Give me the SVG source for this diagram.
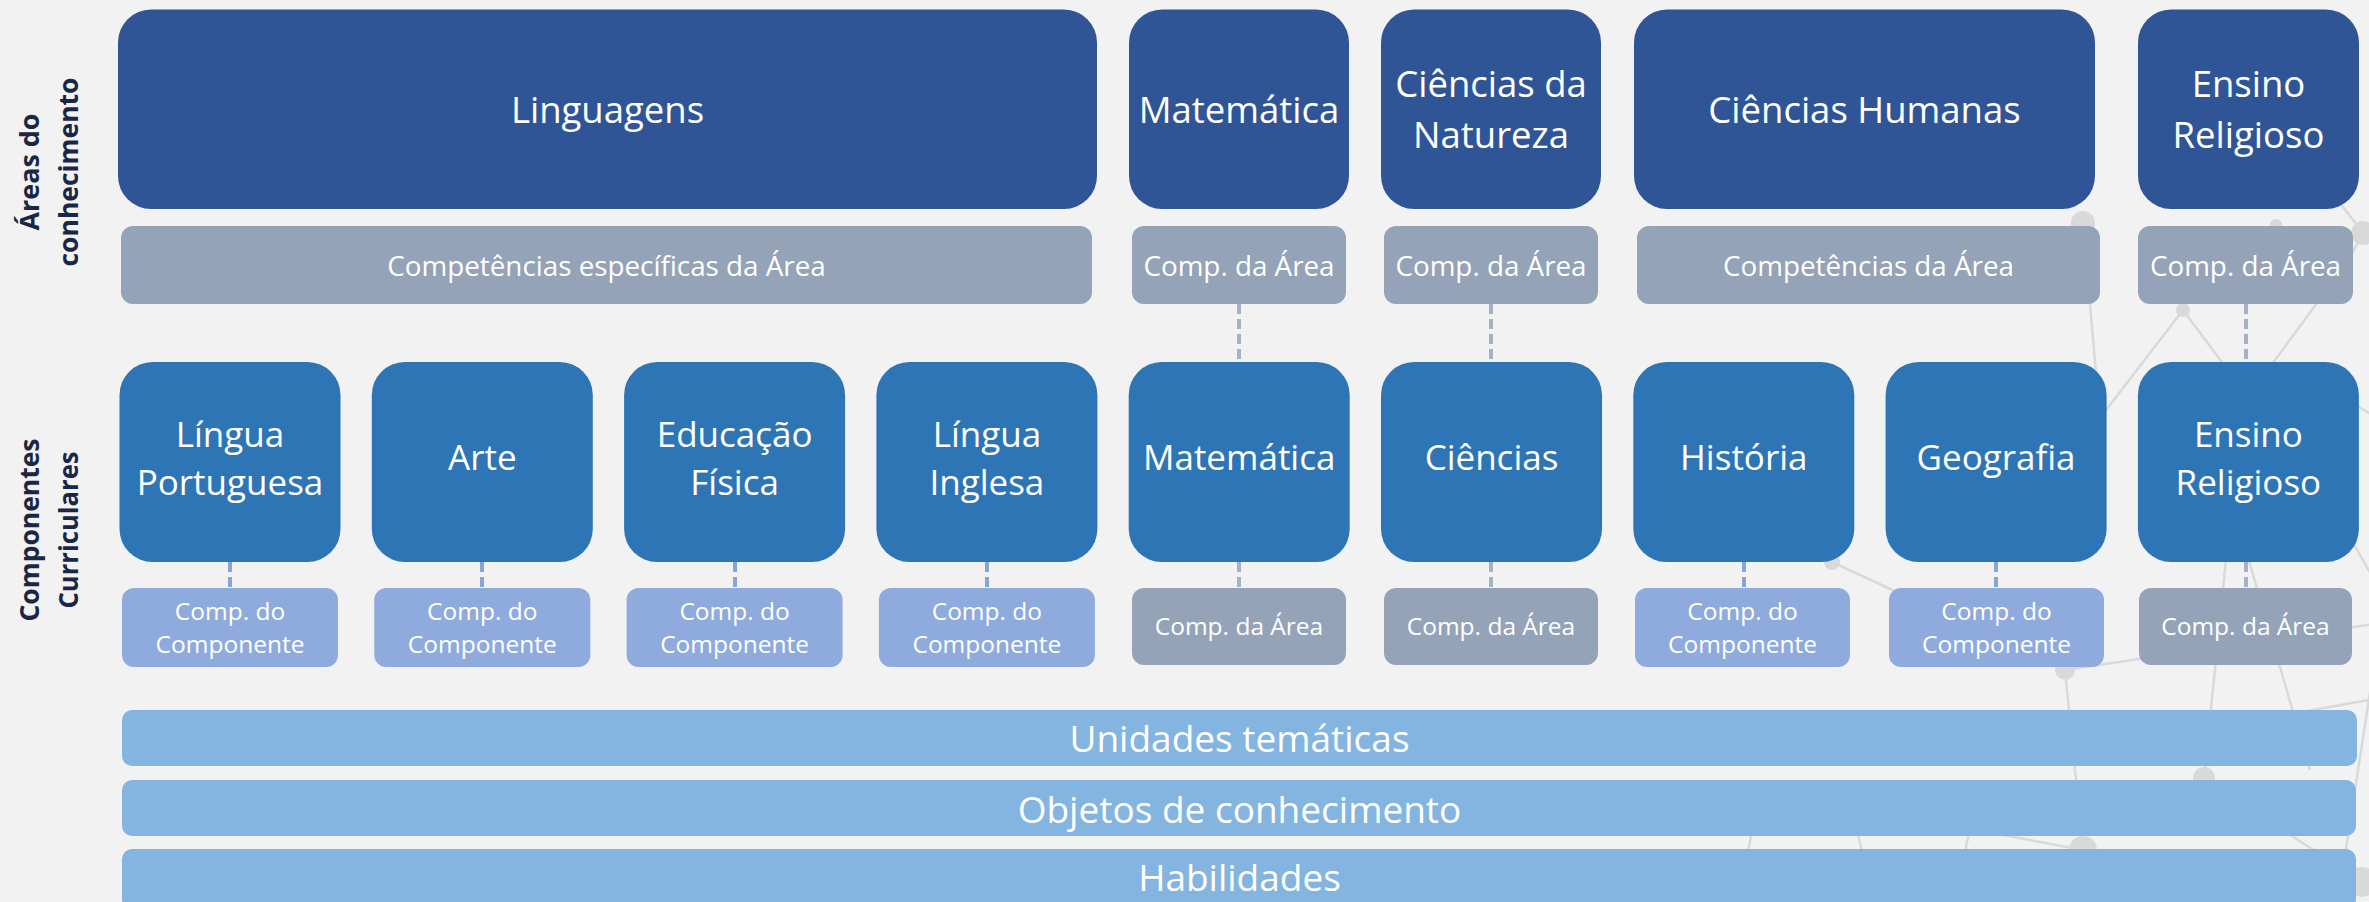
<svg xmlns="http://www.w3.org/2000/svg" width="2369" height="902" viewBox="0 0 2369 902">
<style>
.area{fill:#2F5597}
.comp{fill:#2E75B6}
.ca{fill:#94A3B8}
.cc{fill:#8FAADC}
.band{fill:#84B4E0}
text{font-family:"Open Sans","Noto Sans",sans-serif;fill:#FFFFFF;text-anchor:middle}
.ta{font-size:36.5px}
.t35{font-size:35px}
.t27{font-size:27.8px}
.t24{font-size:24.5px}
.t36{font-size:37px}
.lbl{font-weight:700;font-size:27.5px;fill:#1A2744}
.net line{stroke:#D9D9D9;stroke-width:2.5}
.net circle{fill:#D9D9D9}
.dash{stroke-width:4;stroke-dasharray:10 5;fill:none}
.dg{stroke:#A4B2C6}
.db{stroke:#85A7D6}
</style>
<rect x="0" y="0" width="2369" height="902" fill="#F2F2F2"/>
<g id="network" class="net">
<line x1="2083" y1="223" x2="2100" y2="420"/>
<line x1="2183" y1="310" x2="2060" y2="470"/>
<line x1="2183" y1="310" x2="2265" y2="420"/>
<line x1="2250" y1="394" x2="2345" y2="265"/>
<line x1="2363" y1="233" x2="2330" y2="190"/>
<line x1="2363" y1="233" x2="2380" y2="218"/>
<line x1="2363" y1="233" x2="2340" y2="275"/>
<line x1="1832" y1="562" x2="2065" y2="670"/>
<line x1="2065" y1="670" x2="2380" y2="623"/>
<line x1="2065" y1="670" x2="2083" y2="850"/>
<line x1="2204" y1="778" x2="2232" y2="500"/>
<line x1="2240" y1="530" x2="2310" y2="770"/>
<line x1="2204" y1="778" x2="2362" y2="882"/>
<line x1="2375" y1="660" x2="2338" y2="900"/>
<line x1="2290" y1="714" x2="2380" y2="698"/>
<line x1="2340" y1="520" x2="2380" y2="590"/>
<line x1="2083" y1="850" x2="1950" y2="825"/>
<line x1="1740" y1="900" x2="1757" y2="800"/>
<line x1="1850" y1="800" x2="1872" y2="895"/>
<line x1="1975" y1="800" x2="1955" y2="905"/>
<line x1="2340" y1="395" x2="2380" y2="420"/>
<circle cx="2083" cy="223" r="12"/>
<circle cx="2183" cy="310" r="7"/>
<circle cx="2276" cy="225" r="6"/>
<circle cx="2363" cy="233" r="12"/>
<circle cx="1832" cy="562" r="8"/>
<circle cx="2065" cy="670" r="10"/>
<circle cx="2204" cy="778" r="11"/>
<circle cx="2083" cy="850" r="14"/>
<circle cx="2362" cy="882" r="15"/>
</g>
<g id="side-labels">
<text class="lbl" transform="translate(0,172) rotate(-90)"><tspan x="0" y="39" textLength="117" lengthAdjust="spacingAndGlyphs">Áreas do</tspan><tspan x="0" y="78" textLength="189" lengthAdjust="spacingAndGlyphs">conhecimento</tspan></text>
<text class="lbl" transform="translate(0,530) rotate(-90)"><tspan x="0" y="39" textLength="183" lengthAdjust="spacingAndGlyphs">Componentes</tspan><tspan x="0" y="78" textLength="157" lengthAdjust="spacingAndGlyphs">Curriculares</tspan></text>
</g>
<g id="connectors">
<line class="dash dg" x1="1239" y1="304" x2="1239" y2="362"/>
<line class="dash dg" x1="1491" y1="304" x2="1491" y2="362"/>
<line class="dash dg" x1="2246" y1="304" x2="2246" y2="362"/>
<line class="dash db" x1="230" y1="562" x2="230" y2="588"/>
<line class="dash db" x1="482" y1="562" x2="482" y2="588"/>
<line class="dash db" x1="735" y1="562" x2="735" y2="588"/>
<line class="dash db" x1="987" y1="562" x2="987" y2="588"/>
<line class="dash dg" x1="1239" y1="562" x2="1239" y2="588"/>
<line class="dash dg" x1="1491" y1="562" x2="1491" y2="588"/>
<line class="dash db" x1="1744" y1="562" x2="1744" y2="588"/>
<line class="dash db" x1="1996" y1="562" x2="1996" y2="588"/>
<line class="dash dg" x1="2246" y1="562" x2="2246" y2="588"/>
</g>
<g id="area-linguagens"><rect class="area" x="118" y="9.5" width="979" height="199.5" rx="33"/><text class="ta" x="607.5" y="123">Linguagens</text></g>
<g id="area-matematica"><rect class="area" x="1129" y="9.5" width="220" height="199.5" rx="33"/><text class="ta" x="1239" y="123">Matemática</text></g>
<g id="area-ciencias-natureza"><rect class="area" x="1381" y="9.5" width="220" height="199.5" rx="33"/><text class="ta" x="1491" y="97">Ciências da</text><text class="ta" x="1491" y="148">Natureza</text></g>
<g id="area-ciencias-humanas"><rect class="area" x="1634" y="9.5" width="461" height="199.5" rx="33"/><text class="ta" x="1864.5" y="123">Ciências Humanas</text></g>
<g id="area-ensino-religioso"><rect class="area" x="2138" y="9.5" width="221" height="199.5" rx="33"/><text class="ta" x="2248.5" y="97">Ensino</text><text class="ta" x="2248.5" y="148">Religioso</text></g>
<g id="comp-area-linguagens"><rect class="ca" x="121" y="226" width="971" height="78" rx="12"/><text class="t27" x="606.5" y="276">Competências específicas da Área</text></g>
<g id="comp-area-matematica"><rect class="ca" x="1132" y="226" width="214" height="78" rx="12"/><text class="t27" x="1239" y="276">Comp. da Área</text></g>
<g id="comp-area-ciencias-natureza"><rect class="ca" x="1384" y="226" width="214" height="78" rx="12"/><text class="t27" x="1491" y="276">Comp. da Área</text></g>
<g id="comp-area-ciencias-humanas"><rect class="ca" x="1637" y="226" width="463" height="78" rx="12"/><text class="t27" x="1868.5" y="276">Competências da Área</text></g>
<g id="comp-area-ensino-religioso"><rect class="ca" x="2138" y="226" width="215" height="78" rx="12"/><text class="t27" x="2245.5" y="276">Comp. da Área</text></g>
<g id="cc-lingua-portuguesa"><rect class="comp" x="119.5" y="362" width="221" height="200" rx="33"/><text class="t35" x="230" y="447">Língua</text><text class="t35" x="230" y="495">Portuguesa</text></g>
<g id="cc-arte"><rect class="comp" x="371.8" y="362" width="221" height="200" rx="33"/><text class="t35" x="482.3" y="470">Arte</text></g>
<g id="cc-educacao-fisica"><rect class="comp" x="624.1" y="362" width="221" height="200" rx="33"/><text class="t35" x="734.6" y="447">Educação</text><text class="t35" x="734.6" y="495">Física</text></g>
<g id="cc-lingua-inglesa"><rect class="comp" x="876.4" y="362" width="221" height="200" rx="33"/><text class="t35" x="986.9" y="447">Língua</text><text class="t35" x="986.9" y="495">Inglesa</text></g>
<g id="cc-matematica"><rect class="comp" x="1128.7" y="362" width="221" height="200" rx="33"/><text class="t35" x="1239.2" y="470">Matemática</text></g>
<g id="cc-ciencias"><rect class="comp" x="1381" y="362" width="221" height="200" rx="33"/><text class="t35" x="1491.5" y="470">Ciências</text></g>
<g id="cc-historia"><rect class="comp" x="1633.3" y="362" width="221" height="200" rx="33"/><text class="t35" x="1743.8" y="470">História</text></g>
<g id="cc-geografia"><rect class="comp" x="1885.6" y="362" width="221" height="200" rx="33"/><text class="t35" x="1996.1" y="470">Geografia</text></g>
<g id="cc-ensino-religioso"><rect class="comp" x="2137.9" y="362" width="221" height="200" rx="33"/><text class="t35" x="2248.4" y="447">Ensino</text><text class="t35" x="2248.4" y="495">Religioso</text></g>
<g id="sub-lingua-portuguesa"><rect class="cc" x="122" y="588" width="216" height="79" rx="12"/><text class="t24" x="230" y="620">Comp. do</text><text class="t24" x="230" y="653">Componente</text></g>
<g id="sub-arte"><rect class="cc" x="374.3" y="588" width="216" height="79" rx="12"/><text class="t24" x="482.3" y="620">Comp. do</text><text class="t24" x="482.3" y="653">Componente</text></g>
<g id="sub-educacao-fisica"><rect class="cc" x="626.6" y="588" width="216" height="79" rx="12"/><text class="t24" x="734.6" y="620">Comp. do</text><text class="t24" x="734.6" y="653">Componente</text></g>
<g id="sub-lingua-inglesa"><rect class="cc" x="878.9" y="588" width="216" height="79" rx="12"/><text class="t24" x="986.9" y="620">Comp. do</text><text class="t24" x="986.9" y="653">Componente</text></g>
<g id="sub-matematica"><rect class="ca" x="1132" y="588" width="214" height="77" rx="12"/><text class="t24" x="1239" y="635">Comp. da Área</text></g>
<g id="sub-ciencias"><rect class="ca" x="1384" y="588" width="214" height="77" rx="12"/><text class="t24" x="1491" y="635">Comp. da Área</text></g>
<g id="sub-historia"><rect class="cc" x="1635" y="588" width="215" height="79" rx="12"/><text class="t24" x="1742.5" y="620">Comp. do</text><text class="t24" x="1742.5" y="653">Componente</text></g>
<g id="sub-geografia"><rect class="cc" x="1889" y="588" width="215" height="79" rx="12"/><text class="t24" x="1996.5" y="620">Comp. do</text><text class="t24" x="1996.5" y="653">Componente</text></g>
<g id="sub-ensino-religioso"><rect class="ca" x="2139" y="588" width="213" height="77" rx="12"/><text class="t24" x="2245.5" y="635">Comp. da Área</text></g>
<g id="band-unidades"><rect class="band" x="122" y="710" width="2235" height="56" rx="10"/><text class="t36" x="1239.5" y="752">Unidades temáticas</text></g>
<g id="band-objetos"><rect class="band" x="122" y="780" width="2234" height="56" rx="10"/><text class="t36" x="1239.5" y="823">Objetos de conhecimento</text></g>
<g id="band-habilidades"><rect class="band" x="122" y="849" width="2234" height="60" rx="10"/><text class="t36" x="1239.5" y="891">Habilidades</text></g>
</svg>
